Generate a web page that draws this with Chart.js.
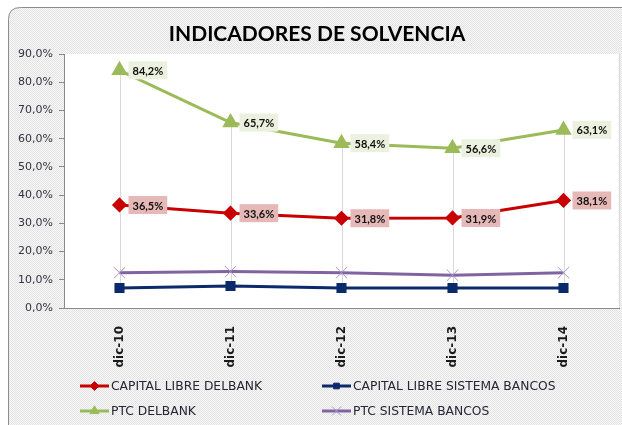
<!DOCTYPE html>
<html><head><meta charset="utf-8">
<script src="https://cdn.jsdelivr.net/npm/chart.js@4/dist/chart.umd.min.js"></script>
<style>html,body{margin:0;padding:0;background:#fff;}#wrap{width:622px;height:425px;position:relative;}</style>
</head><body><div id="wrap"><canvas id="c" width="622" height="425"></canvas></div>
<script>
const categories = ['dic-10', 'dic-11', 'dic-12', 'dic-13', 'dic-14'];
const capitalLibreDelbank = [36.5, 33.6, 31.8, 31.9, 38.1];
const capitalLibreSistema = [7.1, 7.8, 7.1, 7.1, 7.1];
const ptcDelbank = [84.2, 65.7, 58.4, 56.6, 63.1];
const ptcSistema = [12.5, 12.9, 12.5, 11.6, 12.5];
const seriesNames = ['CAPITAL LIBRE DELBANK', 'CAPITAL LIBRE SISTEMA BANCOS', 'PTC DELBANK', 'PTC SISTEMA BANCOS'];
const yTickValues = [0, 10, 20, 30, 40, 50, 60, 70, 80, 90];
const chartTitle = 'INDICADORES DE SOLVENCIA';

const fmt = v => v.toFixed(1).replace('.', ',') + '%';

function drawMarker(ctx, style, x, y, r, fill, stroke) {
  ctx.save();
  ctx.fillStyle = fill; ctx.strokeStyle = stroke; ctx.lineWidth = 1;
  ctx.beginPath();
  if (style === 'rectRot') {
    ctx.moveTo(x, y - r); ctx.lineTo(x + r, y); ctx.lineTo(x, y + r); ctx.lineTo(x - r, y); ctx.closePath(); ctx.fill(); ctx.stroke();
  } else if (style === 'rect') {
    const s = r * Math.SQRT1_2; ctx.rect(x - s, y - s, 2 * s, 2 * s); ctx.fill(); ctx.stroke();
  } else if (style === 'triangle') {
    ctx.moveTo(x, y - r);
    ctx.lineTo(x + r * Math.cos(Math.PI / 6), y + r / 2);
    ctx.lineTo(x - r * Math.cos(Math.PI / 6), y + r / 2);
    ctx.closePath(); ctx.fill(); ctx.stroke();
  } else if (style === 'crossRot') {
    const o = r * Math.SQRT1_2;
    ctx.moveTo(x - o, y - o); ctx.lineTo(x + o, y + o);
    ctx.moveTo(x + o, y - o); ctx.lineTo(x - o, y + o); ctx.stroke();
  }
  ctx.restore();
}

function makePattern(ctx) {
  const p = document.createElement('canvas'); p.width = 2; p.height = 2;
  const c = p.getContext('2d');
  c.fillStyle = '#f7f7f7'; c.fillRect(0, 0, 2, 2);
  c.fillStyle = '#e4e4e4'; c.fillRect(0, 0, 1, 1); c.fillRect(1, 1, 1, 1);
  return ctx.createPattern(p, 'repeat');
}

const bgPlugin = {
  id: 'bg',
  beforeDraw(chart) {
    const ctx = chart.ctx, a = chart.chartArea;
    ctx.save();
    ctx.fillStyle = '#ffffff'; ctx.fillRect(0, 0, chart.width, chart.height);
    const x0 = 8.5, y0 = 7.5, x1 = chart.width + 20, y1 = chart.height + 20, r = 12;
    ctx.beginPath();
    ctx.moveTo(x0 + r, y0); ctx.lineTo(x1, y0); ctx.lineTo(x1, y1); ctx.lineTo(x0, y1); ctx.lineTo(x0, y0 + r);
    ctx.quadraticCurveTo(x0, y0, x0 + r, y0); ctx.closePath();
    ctx.fillStyle = makePattern(ctx); ctx.fill();
    ctx.strokeStyle = '#8c8c8c'; ctx.lineWidth = 1; ctx.stroke();
    ctx.fillStyle = '#ffffff';
    ctx.fillRect(a.left, a.top, a.right - a.left, a.bottom - a.top);
    ctx.strokeStyle = '#d9d9d9';
    ctx.beginPath(); ctx.moveTo(Math.round(a.right) + 0.5, a.top); ctx.lineTo(Math.round(a.right) + 0.5, a.bottom); ctx.stroke();
    ctx.restore();
  },
  beforeDatasetsDraw(chart) {
    const ctx = chart.ctx;
    const hi = chart.getDatasetMeta(2).data, lo = chart.getDatasetMeta(1).data;
    ctx.save();
    ctx.strokeStyle = '#d9d9d9'; ctx.lineWidth = 1;
    hi.forEach((p, i) => {
      const x = Math.round(p.x) + 0.5;
      ctx.beginPath(); ctx.moveTo(x, p.y); ctx.lineTo(x, lo[i].y); ctx.stroke();
    });
    ctx.restore();
  },
  afterDatasetsDraw(chart) {
    const ctx = chart.ctx;
    ctx.save();
    ctx.font = 'bold 11px Lato';
    ctx.textBaseline = 'middle';
    [[0, '#e6b9b8'], [2, '#ebf1de']].forEach(([di, bg]) => {
      const ds = chart.data.datasets[di];
      chart.getDatasetMeta(di).data.forEach((p, i) => {
        const t = fmt(ds.data[i]);
        const w = ctx.measureText(t).width + 8, h = 18;
        const bx = p.x + 9, by = p.y - h / 2;
        ctx.fillStyle = bg; ctx.fillRect(bx, by, w, h);
        ctx.fillStyle = '#111111'; ctx.fillText(t, bx + 4, p.y + 1);
      });
    });
    ctx.restore();
  },
  afterDraw(chart) {
    const ctx = chart.ctx;
    ctx.save();
    ctx.font = 'bold 21px Lato';
    ctx.fillStyle = '#000000';
    ctx.textAlign = 'center';
    ctx.textBaseline = 'alphabetic';
    ctx.fillText(chartTitle, 317, 41);
    const cols = [80, 322], rows = [386, 411];
    ctx.font = '12.3px "DejaVu Sans"';
    ctx.textAlign = 'left';
    ctx.textBaseline = 'middle';
    chart.data.datasets.forEach((ds, i) => {
      const x = cols[i % 2], y = rows[Math.floor(i / 2)];
      ctx.strokeStyle = ds.borderColor; ctx.lineWidth = 3;
      ctx.beginPath(); ctx.moveTo(x, y); ctx.lineTo(x + 29, y); ctx.stroke();
      drawMarker(ctx, ds.pointStyle, x + 14.5, y, ds.pointRadius * 0.8, ds.pointBackgroundColor, ds.pointBorderColor);
      ctx.fillStyle = '#262636';
      ctx.fillText(ds.label, x + 31, y + 1);
    });
    ctx.restore();
  }
};

new Chart(document.getElementById('c'), {
  type: 'line',
  data: {
    labels: categories,
    datasets: [
      { label: seriesNames[0], data: capitalLibreDelbank, borderColor: '#c80000', backgroundColor: '#c80000', borderWidth: 3,
        pointStyle: 'rectRot', pointRadius: 5.5, pointBackgroundColor: '#c80000', pointBorderColor: '#c80000' },
      { label: seriesNames[1], data: capitalLibreSistema, borderColor: '#0b2a6b', backgroundColor: '#0b2a6b', borderWidth: 3,
        pointStyle: 'rect', pointRadius: 5, pointBackgroundColor: '#0b2a6b', pointBorderColor: '#0b2a6b' },
      { label: seriesNames[2], data: ptcDelbank, borderColor: '#9bbb59', backgroundColor: '#9bbb59', borderWidth: 3,
        pointStyle: 'triangle', pointRadius: 6.5, pointBackgroundColor: '#9bbb59', pointBorderColor: '#9bbb59' },
      { label: seriesNames[3], data: ptcSistema, borderColor: '#8064a2', backgroundColor: '#8064a2', borderWidth: 3,
        pointStyle: 'crossRot', pointRadius: 8, pointBackgroundColor: '#a996c8', pointBorderColor: '#a996c8', pointBorderWidth: 1 }
    ]
  },
  options: {
    responsive: false,
    animation: false,
    devicePixelRatio: 1,
    layout: { autoPadding: false, padding: { left: 0, right: 3, top: 54, bottom: 57 } },
    plugins: {
      legend: { display: false },
      tooltip: { enabled: false },
      title: { display: false }
    },
    scales: {
      x: {
        offset: true,
        grid: { display: false },
        border: { display: true, color: '#8a8a8a', width: 1 },
        ticks: { color: '#1a1a1a', font: { family: 'DejaVu Sans', size: 12, weight: 'bold' }, minRotation: 90, maxRotation: 90, padding: 10 },
        afterFit(s) { s.height = 60; s.paddingLeft = 0; s.paddingRight = 0; }
      },
      y: {
        min: 0, max: 90,
        afterBuildTicks(s) { s.ticks = yTickValues.map(v => ({ value: v })); },
        grid: { display: true, drawOnChartArea: false, drawTicks: true, tickLength: 5, color: '#8a8a8a' },
        border: { display: true, color: '#8a8a8a', width: 1 },
        ticks: { color: '#333344', font: { family: 'DejaVu Sans', size: 11 }, padding: 6, callback: v => fmt(v) },
        afterFit(s) { s.width = 64; }
      }
    }
  },
  plugins: [bgPlugin]
});
</script></body></html>
